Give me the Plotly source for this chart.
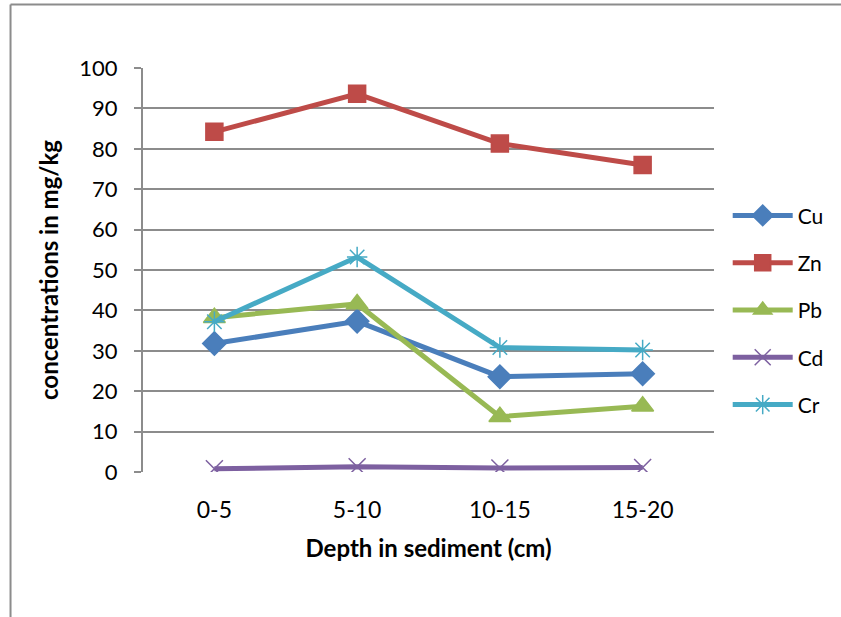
import plotly.graph_objects as go

depths = ["0-5", "5-10", "10-15", "15-20"]
cu = [31.8, 37.3, 23.6, 24.3]
zn = [84.2, 93.6, 81.3, 76.0]
pb = [38.2, 41.6, 13.7, 16.3]
cd = [0.8, 1.3, 1.0, 1.1]
cr = [37.2, 53.2, 30.8, 30.2]

series = [
    ("Cu", cu, "#4A7EBB", "diamond", 18),
    ("Zn", zn, "#BE4B48", "square", 17),
    ("Pb", pb, "#98B954", "triangle-up", 19),
    ("Cd", cd, "#7D60A0", "x-thin-open", 17),
    ("Cr", cr, "#46AAC5", "asterisk-open", 17),
]

fig = go.Figure()
for i, (name, vals, col, sym, sz) in enumerate(series):
    fig.add_trace(go.Scatter(
        x=depths, y=vals, name=name, mode="lines+markers",
        line=dict(color=col, width=5),
        marker=dict(symbol=sym, size=sz, color=col,
                    line=dict(color=col, width=1.5)),
        legendgroup=name,
    ))

font_fam = "Lato, 'Open Sans', sans-serif"
fig.update_layout(
    width=841, height=617,
    margin=dict(l=143, r=125, t=68, b=145),
    paper_bgcolor="white", plot_bgcolor="white",
    font=dict(family=font_fam, color="black", size=22),
    showlegend=True,
    legend=dict(x=1.024, y=0.685, xanchor="left", yanchor="top",
                font=dict(size=21, family=font_fam),
                traceorder="grouped", tracegroupgap=17,
                itemwidth=60, bgcolor="rgba(0,0,0,0)"),
    xaxis=dict(
        type="category", range=[-0.5, 3.5],
        showgrid=False, showline=False, zeroline=False,
        ticks="", tickfont=dict(size=23, family=font_fam),
        ticklabelstandoff=22,
        title=dict(text="<b>Depth in sediment (cm)</b>",
                   font=dict(size=24, family=font_fam), standoff=18),
    ),
    yaxis=dict(
        range=[0, 100], dtick=10, tick0=0,
        showgrid=True, gridcolor="#8c8c8c", gridwidth=2,
        showline=True, linecolor="#8c8c8c", linewidth=2,
        ticks="outside", ticklen=7, tickcolor="#8c8c8c", tickwidth=2,
        zeroline=False,
        tickfont=dict(size=22, family=font_fam),
        ticklabelstandoff=12,
        title=dict(text="<b>concentrations in mg/kg</b>",
                   font=dict(size=24, family=font_fam), standoff=14),
    ),
)

# outer chart frame (left and top border)
fig.add_shape(type="line", xref="paper", yref="paper",
              x0=-0.232, x1=1.3, y0=1.157, y1=1.157,
              line=dict(color="#8c8c8c", width=2))
fig.add_shape(type="line", xref="paper", yref="paper",
              x0=-0.232, x1=-0.232, y0=1.157, y1=-0.4,
              line=dict(color="#8c8c8c", width=2))

fig.write_html("out.html")
